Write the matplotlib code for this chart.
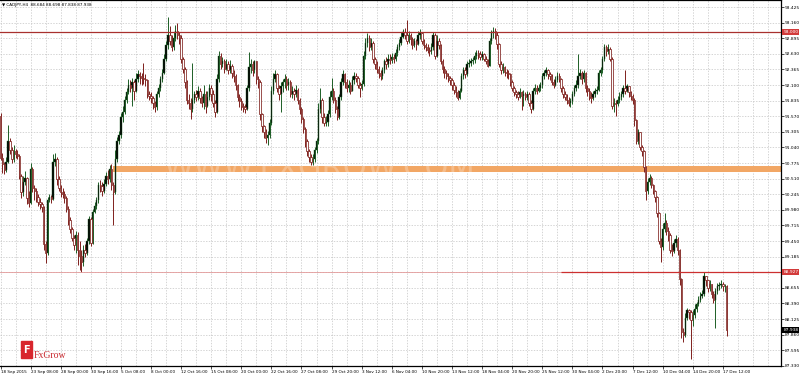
import numpy as np
import matplotlib
matplotlib.use('Agg')
import matplotlib.pyplot as plt
from matplotlib.patches import Rectangle
from matplotlib import transforms

# CADJPY H4 candles, one value per bar (open of each bar = previous close)
first_open = 91.58
closes = [
    90.86, 90.75, 90.66, 90.80, 91.15, 91.00, 90.85, 90.98, 90.93, 90.90,
    90.55, 90.28, 90.45, 90.52, 90.18, 90.10, 90.68, 90.35, 90.30, 90.20,
    90.12, 90.08, 90.02, 89.40, 89.25, 90.15, 90.20, 90.17, 90.80, 90.85,
    90.50, 90.35, 90.28, 90.25, 90.18, 90.00, 89.80, 89.65, 89.50, 89.38,
    89.55, 89.30, 89.20, 89.10, 89.30, 89.25, 89.45, 89.82, 89.42, 89.95,
    90.05, 90.15, 90.40, 90.38, 90.30, 90.42, 90.55, 90.50, 90.68, 90.40,
    90.28, 90.85, 91.15, 91.25, 91.55, 91.65, 91.85, 91.98, 92.10, 92.05,
    92.15, 92.00, 92.20, 92.28, 92.25, 92.22, 92.20, 92.18, 91.95, 91.92,
    91.88, 91.80, 91.72, 91.95, 92.05, 92.20, 92.30, 92.55, 92.78, 92.95,
    92.85, 92.75, 92.90, 93.02, 92.95, 92.90, 92.55, 92.38, 92.15, 91.85,
    91.80, 91.70, 91.85, 91.95, 91.90, 92.00, 91.88, 91.80, 91.95, 91.75,
    91.90, 92.05, 91.95, 91.80, 91.65, 92.20, 92.60, 92.45, 92.50, 92.38,
    92.45, 92.35, 92.42, 92.30, 92.25, 92.10, 91.90, 91.82, 91.75, 91.72,
    91.70, 92.05, 92.40, 92.45, 92.35, 92.50, 92.20, 92.15, 91.60, 91.40,
    91.30, 91.20, 91.25, 91.45, 92.00, 92.20, 92.28, 92.05, 91.95, 92.08,
    92.15, 92.20, 92.10, 92.15, 91.95, 92.00, 91.95, 92.02, 91.85, 91.70,
    91.52, 91.35, 91.15, 90.98, 90.88, 90.80, 90.85, 91.00, 91.15, 91.70,
    91.85, 91.55, 91.45, 91.48, 91.60, 91.90, 92.00, 91.85, 91.70, 91.55,
    91.90, 92.15, 92.28, 92.15, 92.05, 92.10, 92.00, 92.18, 92.25, 92.22,
    92.10, 92.05, 92.12, 92.60, 92.82, 92.90, 92.75, 92.82, 92.55, 92.45,
    92.38, 92.30, 92.25, 92.35, 92.50, 92.45, 92.55, 92.52, 92.58, 92.55,
    92.65, 92.75, 92.82, 92.92, 93.00, 92.95, 92.85, 92.95, 92.88, 92.78,
    92.85, 92.80, 92.95, 92.98, 92.85, 92.78, 92.75, 92.70, 92.68, 92.75,
    92.95, 92.60, 92.85, 92.78, 92.50, 92.38, 92.30, 92.26, 92.22, 92.18,
    92.10, 92.02, 91.98, 91.88, 92.00, 92.25, 92.35, 92.28, 92.45, 92.48,
    92.50, 92.52, 92.60, 92.65, 92.62, 92.58, 92.62, 92.55, 92.50, 92.42,
    92.85, 92.98, 93.02, 92.95, 92.80, 92.45, 92.35, 92.40, 92.32, 92.30,
    92.28, 92.15, 92.05, 91.98, 91.95, 91.90, 91.98, 91.92, 91.95, 91.90,
    91.95, 91.80, 91.70, 92.00, 92.05, 92.00, 92.05, 92.10, 92.25, 92.30,
    92.35, 92.28, 92.25, 92.15, 92.10, 92.18, 92.26, 92.20, 92.05, 91.95,
    91.90, 91.85, 91.80, 91.82, 91.95, 92.05, 92.10, 92.25, 92.30, 92.20,
    92.30, 92.05, 92.00, 91.90, 91.88, 91.95, 92.00, 92.02, 92.30, 92.35,
    92.55, 92.75, 92.68, 92.72, 92.55, 91.75, 91.80, 91.78, 91.85, 91.90,
    91.95, 92.05, 92.00, 92.08, 91.98, 91.92, 91.85, 91.50, 91.15, 91.30,
    91.05, 90.98, 90.70, 90.30, 90.45, 90.52, 90.40, 90.30, 90.20, 89.92,
    89.45, 89.35, 89.65, 89.75, 89.62, 89.55, 89.30, 89.28, 89.42, 89.48,
    89.30, 88.80, 87.90, 87.85, 88.15, 88.28, 88.25, 88.10, 88.20, 88.30,
    88.38, 88.45, 88.52, 88.55, 88.85, 88.78, 88.65, 88.72, 88.55, 88.45,
    88.60, 88.68, 88.70, 88.72, 88.68, 88.68, 87.94,
]
highs = [
    91.62, 90.95, 90.80, 90.88, 91.42, 91.20, 91.05, 91.08, 91.02, 91.00,
    90.92, 90.58, 90.55, 90.64, 90.54, 90.30, 90.78, 90.70, 90.40, 90.35,
    90.25, 90.18, 90.12, 90.05, 89.45, 90.20, 90.25, 90.24, 90.92, 90.95,
    90.88, 90.55, 90.40, 90.35, 90.30, 90.22, 90.05, 89.85, 89.68, 89.55,
    89.62, 89.60, 89.45, 89.30, 89.38, 89.40, 89.50, 89.88, 89.85, 90.00,
    90.12, 90.20, 90.45, 90.48, 90.45, 90.50, 90.62, 90.66, 90.74, 90.75,
    90.45, 91.00, 91.22, 91.32, 91.62, 91.75, 91.92, 92.05, 92.20, 92.18,
    92.22, 92.18, 92.30, 92.35, 92.32, 92.30, 92.47, 92.28, 92.20, 92.00,
    91.98, 91.92, 91.82, 92.00, 92.12, 92.26, 92.38, 92.62, 92.85, 93.25,
    93.10, 92.95, 93.00, 93.12, 93.15, 93.00, 92.95, 92.58, 92.40, 92.18,
    91.95, 91.88, 92.47, 92.00, 92.02, 92.08, 92.05, 91.92, 92.10, 92.00,
    92.00, 92.12, 92.10, 92.02, 91.85, 92.28, 92.68, 92.65, 92.58, 92.55,
    92.55, 92.50, 92.52, 92.46, 92.35, 92.28, 92.12, 91.95, 91.88, 91.80,
    91.78, 92.10, 92.66, 92.55, 92.50, 92.52, 92.48, 92.25, 92.18, 91.62,
    91.42, 91.35, 91.32, 91.52, 92.08, 92.30, 92.35, 92.30, 92.10, 92.15,
    92.20, 92.28, 92.25, 92.22, 92.18, 92.08, 92.05, 92.10, 92.05, 91.88,
    91.72, 91.55, 91.38, 91.18, 91.02, 90.92, 90.92, 91.05, 91.20, 91.80,
    92.05, 91.88, 91.62, 91.58, 91.68, 92.00, 92.22, 92.05, 91.90, 91.75,
    91.95, 92.22, 92.35, 92.30, 92.20, 92.18, 92.15, 92.25, 92.32, 92.30,
    92.26, 92.15, 92.18, 92.68, 92.90, 92.98, 92.95, 92.90, 92.85, 92.58,
    92.50, 92.42, 92.35, 92.40, 92.55, 92.58, 92.62, 92.62, 92.65, 92.62,
    92.72, 92.80, 92.88, 93.00, 93.05, 93.06, 93.20, 93.02, 92.98, 92.92,
    92.90, 92.88, 93.02, 93.05, 93.00, 92.88, 92.82, 92.80, 92.75, 92.82,
    93.00, 92.98, 92.95, 92.90, 92.80, 92.55, 92.42, 92.35, 92.30, 92.26,
    92.22, 92.15, 92.08, 92.02, 92.05, 92.30, 92.40, 92.40, 92.50, 92.55,
    92.56, 92.58, 92.66, 92.70, 92.70, 92.68, 92.68, 92.65, 92.60, 92.55,
    92.90, 93.04, 93.08, 93.07, 93.00, 92.82, 92.50, 92.47, 92.42, 92.38,
    92.35, 92.30, 92.18, 92.08, 92.02, 92.00, 92.05, 92.00, 92.02, 91.98,
    92.00, 91.98, 91.85, 92.05, 92.12, 92.10, 92.12, 92.15, 92.30, 92.35,
    92.40, 92.38, 92.32, 92.28, 92.20, 92.25, 92.32, 92.30, 92.22, 92.08,
    92.00, 91.95, 91.90, 91.88, 92.00, 92.10, 92.18, 92.62, 92.38, 92.34,
    92.35, 92.32, 92.10, 92.05, 91.98, 92.00, 92.05, 92.08, 92.35, 92.40,
    92.60, 92.80, 92.78, 92.80, 92.75, 92.58, 91.88, 91.85, 91.92, 91.98,
    92.00, 92.10, 92.35, 92.12, 92.08, 92.00, 91.95, 91.88, 91.52, 91.35,
    91.30, 91.08, 91.00, 90.72, 90.52, 90.58, 90.55, 90.42, 90.32, 90.22,
    89.95, 89.50, 89.75, 89.92, 89.80, 89.68, 89.58, 89.40, 89.48, 89.55,
    89.52, 89.32, 88.82, 87.98, 88.22, 88.32, 88.30, 88.28, 88.28, 88.38,
    88.42, 88.52, 88.58, 88.62, 88.92, 88.86, 88.78, 88.78, 88.70, 88.60,
    88.65, 88.74, 88.76, 88.78, 88.75, 88.72, 88.70,
]
lows = [
    90.83, 90.60, 90.58, 90.62, 90.78, 90.92, 90.78, 90.80, 90.86, 90.84,
    90.50, 90.18, 90.22, 90.40, 90.08, 90.02, 90.08, 90.28, 90.15, 90.12,
    90.05, 90.00, 89.95, 89.30, 89.07, 89.22, 90.12, 90.10, 90.15, 90.72,
    90.40, 90.30, 90.20, 90.18, 90.10, 89.95, 89.72, 89.58, 89.45, 89.30,
    89.25, 89.05, 88.96, 88.92, 89.02, 89.18, 89.22, 89.40, 89.36, 89.40,
    89.92, 90.00, 90.10, 90.28, 90.22, 90.26, 90.38, 90.42, 90.45, 90.32,
    89.72, 90.25, 90.80, 91.10, 91.20, 91.48, 91.60, 91.80, 91.95, 91.98,
    91.75, 91.85, 91.98, 92.15, 92.12, 92.10, 92.12, 92.08, 91.88, 91.85,
    91.80, 91.70, 91.65, 91.68, 91.90, 92.00, 92.15, 92.28, 92.50, 92.72,
    92.78, 92.68, 92.70, 92.85, 92.88, 92.80, 92.48, 92.30, 92.05, 91.78,
    91.70, 91.52, 91.65, 91.80, 91.82, 91.85, 91.80, 91.72, 91.70, 91.62,
    91.72, 91.85, 91.82, 91.72, 91.55, 91.62, 92.15, 92.38, 92.40, 92.30,
    92.35, 92.28, 92.30, 92.22, 92.15, 92.02, 91.82, 91.72, 91.68, 91.65,
    91.62, 91.68, 92.00, 92.30, 92.25, 92.30, 92.12, 92.05, 91.50, 91.30,
    91.20, 91.12, 91.08, 91.20, 91.42, 91.95, 92.15, 91.98, 91.85, 91.65,
    91.98, 92.05, 92.02, 92.02, 91.90, 91.88, 91.85, 91.90, 91.78, 91.60,
    91.45, 91.28, 91.05, 90.90, 90.80, 90.74, 90.74, 90.80, 90.95, 91.10,
    91.62, 91.45, 91.40, 91.40, 91.40, 91.55, 91.85, 91.80, 91.62, 91.50,
    91.52, 91.85, 92.10, 92.05, 91.98, 91.98, 91.95, 92.00, 92.12, 92.15,
    92.05, 91.90, 92.02, 92.08, 92.55, 92.75, 92.68, 92.70, 92.48, 92.38,
    92.30, 92.22, 92.18, 92.20, 92.30, 92.38, 92.40, 92.45, 92.48, 92.48,
    92.50, 92.60, 92.70, 92.78, 92.90, 92.88, 92.80, 92.82, 92.78, 92.72,
    92.75, 92.70, 92.78, 92.88, 92.80, 92.72, 92.68, 92.65, 92.60, 92.62,
    92.70, 92.55, 92.58, 92.72, 92.45, 92.30, 92.22, 92.20, 92.15, 92.10,
    92.02, 91.95, 91.90, 91.85, 91.86, 91.98, 92.20, 92.22, 92.25, 92.40,
    92.42, 92.45, 92.48, 92.55, 92.55, 92.52, 92.52, 92.50, 92.45, 92.40,
    92.42, 92.80, 92.90, 92.88, 92.72, 92.40, 92.28, 92.30, 92.25, 92.22,
    92.20, 92.08, 92.00, 91.92, 91.88, 91.85, 91.88, 91.68, 91.75, 91.85,
    91.85, 91.75, 91.62, 91.68, 91.95, 91.95, 91.98, 92.00, 92.05, 92.20,
    92.25, 92.20, 92.18, 92.10, 92.05, 92.08, 92.15, 92.15, 91.98, 91.88,
    91.85, 91.78, 91.75, 91.72, 91.78, 91.92, 92.00, 92.05, 92.20, 92.12,
    92.15, 91.98, 91.92, 91.84, 91.80, 91.85, 91.90, 91.95, 92.00, 92.25,
    92.30, 92.50, 92.60, 92.62, 92.50, 91.70, 91.65, 91.58, 91.75, 91.80,
    91.85, 91.90, 91.95, 91.98, 91.90, 91.85, 91.78, 91.40, 91.10, 91.10,
    91.00, 90.90, 90.62, 90.15, 90.25, 90.40, 90.35, 90.25, 90.12, 89.85,
    89.40, 89.10, 89.30, 89.60, 89.55, 89.45, 89.25, 89.20, 89.25, 89.35,
    89.22, 88.70, 87.80, 87.74, 87.82, 88.10, 88.12, 87.45, 88.00, 88.15,
    88.25, 88.35, 88.42, 88.48, 88.52, 88.68, 88.58, 88.60, 88.48, 88.40,
    87.97, 88.55, 88.62, 88.65, 88.60, 88.58, 87.84,
]

time_labels = ["18 Sep 2015", "23 Sep 08:00", "28 Sep 00:00", "30 Sep 16:00",
               "5 Oct 08:00", "8 Oct 00:00", "12 Oct 16:00", "15 Oct 08:00",
               "20 Oct 00:00", "22 Oct 16:00", "27 Oct 08:00", "29 Oct 20:00",
               "3 Nov 12:00", "6 Nov 04:00", "10 Nov 20:00", "13 Nov 12:00",
               "18 Nov 04:00", "20 Nov 20:00", "25 Nov 12:00", "30 Nov 04:00",
               "2 Dec 20:00", "7 Dec 12:00", "10 Dec 04:00", "14 Dec 20:00",
               "17 Dec 12:00"]
price_labels = [87.330, 87.595, 87.860, 88.125, 88.390, 88.655, 88.920, 89.185,
                89.450, 89.715, 89.980, 90.245, 90.510, 90.775, 91.040, 91.305,
                91.570, 91.835, 92.100, 92.365, 92.630, 92.895, 93.160, 93.425]

resistance = 93.000
support = 88.927
zone_low, zone_high = 90.63, 90.73
last_price = 87.938
header = "\u25bc CADJPY,H4  88.684 88.698 87.838 87.938"

closes = np.array(closes)
opens = np.r_[first_open, closes[:-1]]
highs = np.maximum(np.array(highs), np.maximum(opens, closes))
lows = np.minimum(np.array(lows), np.minimum(opens, closes))
x = np.arange(len(closes))
up = closes >= opens

bull_col = '#1d5e26'
bear_col = '#7e201c'

fig = plt.figure(figsize=(8, 3.74), dpi=100)
ax = fig.add_axes([0, 8 / 374, 781 / 800, 366 / 374])
ax.set_xlim(-0.27, 414.9)
ax.set_ylim(87.327, 93.544)

# grid: horizontal at price labels, vertical every 8 bars
ax.set_xticks(np.arange(0, 415, 8), minor=True)
ax.set_xticks(np.arange(0, 16 * len(time_labels), 16))
ax.set_xticklabels(time_labels)
for lab in ax.get_xticklabels():
    lab.set_ha('left')
ax.set_yticks(price_labels)
# the support tag covers the 88.920 label
ax.set_yticklabels(['' if abs(v - support) < 0.05 else f'{v:.3f}' for v in price_labels])
ax.grid(True, which='both', color='#c4c4c4', linestyle=(0, (2, 2)), linewidth=0.5, zorder=0)
ax.set_axisbelow(True)

ax.yaxis.tick_right()
ax.tick_params(axis='y', labelsize=3.2, length=2, width=0.5, pad=0.8, colors='black')
ax.tick_params(axis='x', labelsize=3.0, length=2.5, width=0.5, pad=0.5)
ax.tick_params(axis='x', which='minor', length=0)
for side in ['top', 'right', 'bottom']:
    ax.spines[side].set_linewidth(0.9)
ax.spines['left'].set_visible(False)

# support / resistance
ax.axhspan(zone_low, zone_high, xmin=(113 / 781), xmax=1, color='#f2a765', zorder=1, lw=0)
ax.text(170, (zone_low + zone_high) / 2, 'WWW.FXGROW.COM', color='white', alpha=0.25,
        fontsize=22, ha='center', va='center', zorder=1.5)
ax.axhline(resistance, color='#a8302e', lw=0.9, zorder=4)
ax.axhline(support, color='#e39a9a', lw=0.6, zorder=4)
ax.hlines(support, 298, 414.9, color='#cc3030', lw=0.9, zorder=4)

# candles
ax.vlines(x[up], lows[up], highs[up], color=bull_col, lw=0.7, zorder=2)
ax.vlines(x[~up], lows[~up], highs[~up], color=bear_col, lw=0.7, zorder=2)
ax.bar(x[up], np.maximum(closes[up] - opens[up], 0.01), bottom=opens[up], width=0.75,
       color='black', edgecolor=bull_col, linewidth=0.3, zorder=3)
ax.bar(x[~up], np.maximum(opens[~up] - closes[~up], 0.01), bottom=closes[~up], width=0.75,
       color='white', edgecolor=bear_col, linewidth=0.55, zorder=3)

# price tags on the right axis
trans = transforms.blended_transform_factory(ax.transAxes, ax.transData)
for val, bg in [(resistance, '#d23a3a'), (support, '#d23a3a'), (last_price, 'black')]:
    ax.text(1.003, val, f'{val:.3f}', transform=trans, fontsize=3.2, color='white',
            va='center', ha='left', clip_on=False, zorder=6,
            bbox=dict(boxstyle='square,pad=0.2', fc=bg, ec='none'))

fig.text(2 / 800, 1 - 5 / 374, header, fontsize=3.0, va='center', ha='left')

# logo
fig.patches.append(Rectangle((20.7 / 800, 1 - 358 / 374), 11.6 / 800, 17 / 374,
                             transform=fig.transFigure, color='#d8262d', zorder=5))
fig.text(26.5 / 800, 1 - 350 / 374, 'F', color='white', fontsize=7, fontweight='bold',
         ha='center', va='center', zorder=6)
fig.text(33.5 / 800, 1 - 358 / 374, 'FxGrow', color='#c8282e', fontsize=7,
         family='Liberation Serif', ha='left', va='baseline', zorder=6)

fig.savefig('out.png', dpi=100)
